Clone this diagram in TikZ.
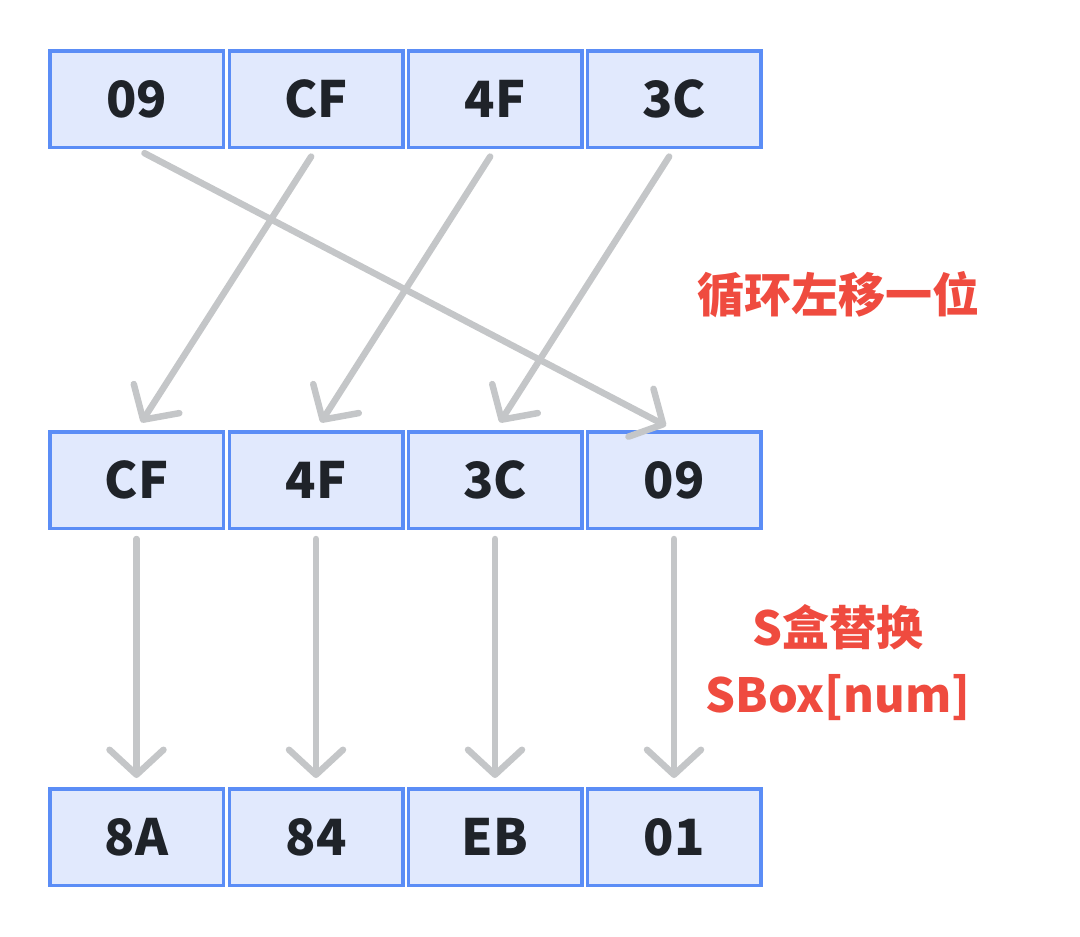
\documentclass[tikz,border=0pt]{standalone}
\usepackage{fontspec}
\setmainfont{Noto Sans CJK SC}
\usetikzlibrary{arrows.meta}
\definecolor{cellfill}{HTML}{E1E9FD}
\definecolor{cellline}{HTML}{5B8DF6}
\definecolor{cellink}{HTML}{1F2329}
\definecolor{arrowgray}{HTML}{C4C6C8}
\definecolor{notered}{HTML}{EF4B3F}
\begin{document}
\begin{tikzpicture}[x=1pt,y=-1pt,
  cell/.style={draw=cellline,fill=cellfill,line width=3.5pt,minimum width=173.5pt,
    minimum height=96.5pt,inner sep=0pt,text=cellink,text height=36pt,text depth=-5pt,
    font=\fontsize{50}{54}\selectfont\bfseries},
  flow/.style={draw=arrowgray,line width=6.5pt,line cap=round,
    shorten <=9pt,shorten >=9pt,
    -{Straight Barb[length=25pt,width=54pt,line cap=round,line join=round]}},
  note/.style={text=notered,font=\fontsize{47}{67}\selectfont\bfseries,align=center}]
  \useasboundingbox (0,0) rectangle (1080,937);
  % columnas y filas (en px)
  \def\xA{136.5} \def\xB{316} \def\xC{495} \def\xD{674}
  \def\yT{99} \def\yM{480} \def\yB{837}
  % fila superior: estado original
  \node[cell] (t1) at (\xA,\yT) {09};
  \node[cell] (t2) at (\xB,\yT) {CF};
  \node[cell] (t3) at (\xC,\yT) {4F};
  \node[cell] (t4) at (\xD,\yT) {3C};
  % fila media: tras el desplazamiento
  \node[cell] (m1) at (\xA,\yM) {CF};
  \node[cell] (m2) at (\xB,\yM) {4F};
  \node[cell] (m3) at (\xC,\yM) {3C};
  \node[cell] (m4) at (\xD,\yM) {09};
  % fila inferior: tras la S-box
  \node[cell] (b1) at (\xA,\yB) {8A};
  \node[cell] (b2) at (\xB,\yB) {84};
  \node[cell] (b3) at (\xC,\yB) {EB};
  \node[cell] (b4) at (\xD,\yB) {01};
  % flechas
  \draw[flow] (t1.south) -- (m4.north);
  \draw[flow] (t2.south) -- (m1.north);
  \draw[flow] (t3.south) -- (m2.north);
  \draw[flow] (t4.south) -- (m3.north);
  \draw[flow] (m1.south) -- (b1.north);
  \draw[flow] (m2.south) -- (b2.north);
  \draw[flow] (m3.south) -- (b3.north);
  \draw[flow] (m4.south) -- (b4.north);
  % etiquetas
  \node[note] (shift) at (838,295) {循环左移一位};
  \node[note] (sbox) at (838,663) {S盒替换\\SBox[num]};
\end{tikzpicture}
\end{document}
